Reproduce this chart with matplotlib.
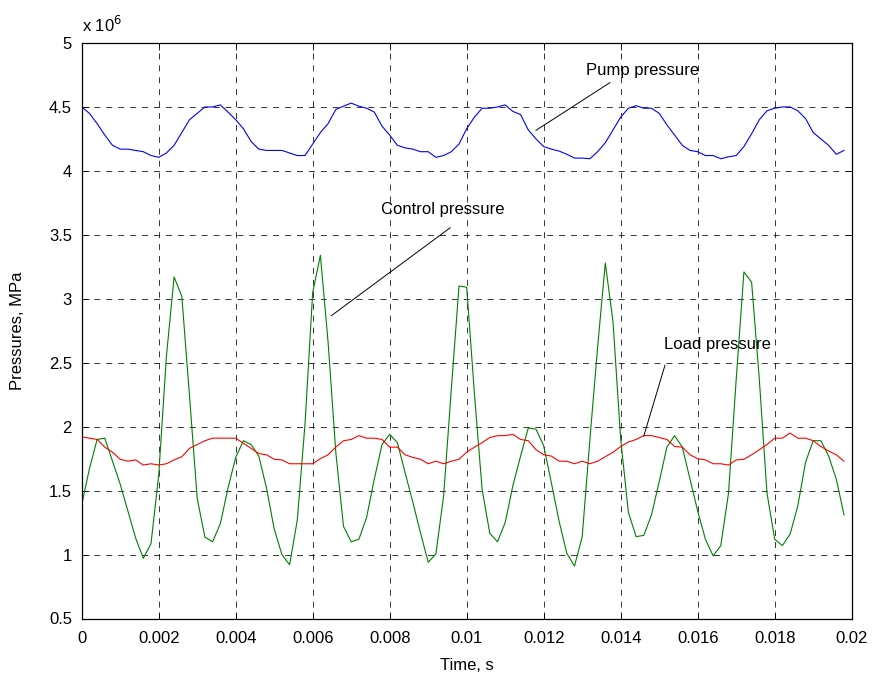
import numpy as np
import matplotlib
matplotlib.use("Agg")
import matplotlib.pyplot as plt

# time samples (s)
time = np.linspace(0.0, 0.0198, 100)

# pressures (x 10^6)
pump = [4.50, 4.45, 4.37, 4.28, 4.20, 4.17, 4.17, 4.16, 4.15, 4.12,
        4.106, 4.14, 4.20, 4.30, 4.40, 4.45, 4.50, 4.50, 4.516, 4.46,
        4.40, 4.33, 4.23, 4.17, 4.16, 4.16, 4.16, 4.14, 4.12, 4.12,
        4.21, 4.30, 4.37, 4.48, 4.506, 4.53, 4.506, 4.49, 4.46, 4.35,
        4.28, 4.20, 4.18, 4.17, 4.15, 4.15, 4.106, 4.12, 4.15, 4.21,
        4.33, 4.42, 4.49, 4.49, 4.50, 4.516, 4.465, 4.44, 4.32, 4.25,
        4.19, 4.17, 4.155, 4.13, 4.10, 4.10, 4.095, 4.15, 4.22, 4.32,
        4.42, 4.49, 4.51, 4.49, 4.49, 4.45, 4.36, 4.28, 4.20, 4.16,
        4.15, 4.12, 4.12, 4.095, 4.11, 4.12, 4.19, 4.29, 4.40, 4.47,
        4.49, 4.50, 4.50, 4.47, 4.41, 4.30, 4.25, 4.20, 4.13, 4.16]

control = [1.39, 1.67, 1.90, 1.91, 1.73, 1.55, 1.34, 1.13, 0.97, 1.086,
           1.62, 2.55, 3.17, 3.02, 2.24, 1.44, 1.136, 1.10, 1.24, 1.52,
           1.76, 1.89, 1.86, 1.77, 1.52, 1.20, 1.00, 0.92, 1.27, 2.02,
           3.05, 3.34, 2.66, 1.80, 1.22, 1.10, 1.12, 1.29, 1.59, 1.86,
           1.94, 1.875, 1.64, 1.41, 1.17, 0.94, 1.005, 1.457, 2.29, 3.10,
           3.09, 2.26, 1.51, 1.165, 1.10, 1.25, 1.54, 1.77, 1.99, 1.98,
           1.85, 1.56, 1.26, 1.01, 0.91, 1.14, 1.90, 2.62, 3.28, 2.82,
           1.90, 1.33, 1.14, 1.15, 1.31, 1.57, 1.84, 1.93, 1.84, 1.59,
           1.34, 1.12, 0.99, 1.07, 1.48, 2.37, 3.21, 3.13, 2.37, 1.48,
           1.12, 1.07, 1.16, 1.38, 1.72, 1.89, 1.89, 1.77, 1.59, 1.31]

load = [1.92, 1.91, 1.90, 1.84, 1.80, 1.745, 1.73, 1.74, 1.70, 1.71,
        1.70, 1.71, 1.74, 1.765, 1.83, 1.86, 1.89, 1.91, 1.91, 1.91,
        1.91, 1.87, 1.83, 1.79, 1.78, 1.745, 1.74, 1.71, 1.71, 1.71,
        1.71, 1.75, 1.78, 1.84, 1.89, 1.90, 1.93, 1.91, 1.91, 1.90,
        1.84, 1.84, 1.78, 1.76, 1.745, 1.71, 1.73, 1.71, 1.73, 1.745,
        1.80, 1.84, 1.875, 1.915, 1.93, 1.93, 1.94, 1.90, 1.89, 1.82,
        1.78, 1.77, 1.73, 1.73, 1.71, 1.73, 1.71, 1.73, 1.765, 1.80,
        1.845, 1.88, 1.90, 1.93, 1.93, 1.915, 1.90, 1.845, 1.84, 1.78,
        1.75, 1.74, 1.71, 1.71, 1.70, 1.74, 1.745, 1.78, 1.82, 1.86,
        1.91, 1.91, 1.95, 1.91, 1.91, 1.89, 1.845, 1.81, 1.78, 1.73]

xticks = [0, 0.002, 0.004, 0.006, 0.008, 0.01, 0.012, 0.014, 0.016, 0.018, 0.02]
xticklabels = ["0", "0.002", "0.004", "0.006", "0.008", "0.01", "0.012",
               "0.014", "0.016", "0.018", "0.02"]
yticks = [0.5, 1, 1.5, 2, 2.5, 3, 3.5, 4, 4.5, 5]
yticklabels = ["0.5", "1", "1.5", "2", "2.5", "3", "3.5", "4", "4.5", "5"]

plt.rcParams['font.family'] = ['Liberation Sans', 'DejaVu Sans']
FS = 12

fig = plt.figure(figsize=(8.77, 6.8), dpi=100)
ax = fig.add_axes([81.7 / 877, 1 - 618.5 / 680, (851.7 - 81.7) / 877, (618.5 - 43) / 680])

ax.plot(time, pump, color=(0, 0, 1), lw=0.8)
ax.plot(time, control, color=(0, 0.5, 0), lw=0.8)
ax.plot(time, load, color=(1, 0, 0), lw=0.8)

ax.set_xlim(0, 0.02)
ax.set_ylim(0.5, 5)
ax.set_xticks(xticks)
ax.set_xticklabels(xticklabels)
ax.set_yticks(yticks)
ax.set_yticklabels(yticklabels)
ax.tick_params(axis='both', direction='in', length=5, width=0.6, top=True, right=True,
               labelsize=FS)
ax.tick_params(axis='x', pad=9)
ax.tick_params(axis='y', pad=7)
for s in ax.spines.values():
    s.set_linewidth(0.9)

ax.grid(True, color='k', linestyle=(0, (7.8, 7.8)), linewidth=0.55)

ax.set_xlabel("Time, s", fontsize=FS, labelpad=9)
ax.set_ylabel("Pressures, MPa", fontsize=FS, labelpad=17)
ax.text(0.0, 1.014, r"x 10$^{6}$", transform=ax.transAxes, fontsize=FS,
        ha='left', va='bottom')

# annotations
ax.plot([0.01180, 0.01372], [4.317, 4.69], color='k', lw=0.7)
ax.text(0.01458, 4.785, "Pump pressure", fontsize=FS, ha='center', va='center')
ax.plot([0.006485, 0.00957], [2.868, 3.555], color='k', lw=0.7)
ax.text(0.00939, 3.70, "Control pressure", fontsize=FS, ha='center', va='center')
ax.plot([0.01460, 0.01515], [1.927, 2.48], color='k', lw=0.7)
ax.text(0.0165, 2.646, "Load pressure", fontsize=FS, ha='center', va='center')

fig.savefig("out.png", dpi=100)
